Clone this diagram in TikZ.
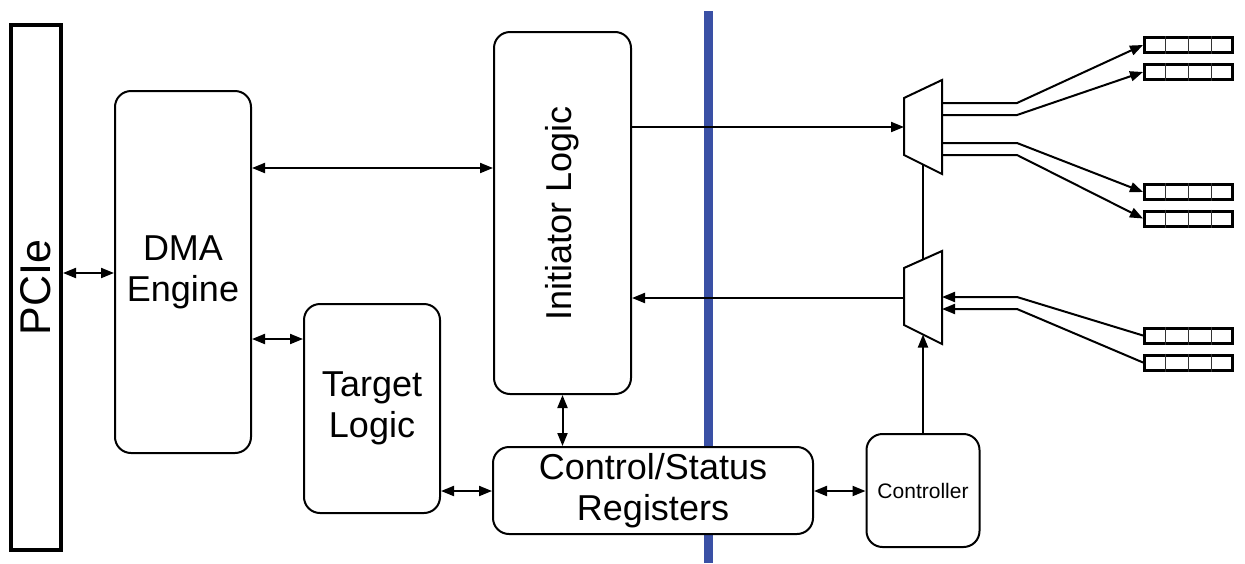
\documentclass[tikz,border=0pt]{standalone}
\usepackage{fontspec}
\setmainfont{Liberation Sans}
\usetikzlibrary{arrows.meta,calc}
\definecolor{barblue}{RGB}{58,80,165}
\begin{document}
\begin{tikzpicture}[x=1pt,y=-1pt,
  >={Triangle[length=13pt,width=10pt]},
  box/.style={draw, line width=2pt, rounded corners=16pt, fill=white,
    align=center, inner sep=0pt, font=\fontsize{36}{41}\selectfont},
  link/.style={line width=2pt, <->},
  feed/.style={line width=2pt, ->},
  wire/.style={line width=2pt},
  muxshape/.style={draw, line width=2pt, fill=white, line join=miter},
  queue/.style={draw, line width=3pt, fill=white, minimum width=88pt,
    minimum height=15pt, inner sep=0pt},
  cell/.style={line width=1.2pt, black!80},
]
\useasboundingbox (0,0) rectangle (1245,563);

% clock-domain boundary
\draw[line width=9pt, barblue] (708.5,11) -- (708.5,563);

% host side
\node[draw, line width=4pt, minimum width=50pt, minimum height=525pt,
      inner sep=0pt, font=\fontsize{43}{50}\selectfont] (pcie) at (36,287.5) {\rotatebox{90}{PCIe}};
\node[box, minimum width=136pt, minimum height=362pt] (dma) at (183,272) {DMA\\Engine};
\node[box, minimum width=136pt, minimum height=209pt] (target) at (372,408.5) {Target\\Logic};
\node[box, minimum width=137pt, minimum height=362pt] (init) at (562.5,213) {\rotatebox{90}{Initiator Logic}};
\node[box, minimum width=320pt, minimum height=87pt] (csr) at (653,490.5) {Control/Status\\Registers};
\node[box, minimum width=113pt, minimum height=113pt,
      font=\fontsize{21}{25}\selectfont] (ctrl) at (923,490.5) {Controller};

% multiplexers
\draw[muxshape] (904,98) -- (942,80) -- (942,174) -- (904,155) -- cycle;
\draw[muxshape] (904,268) -- (942,251) -- (942,344) -- (904,325) -- cycle;
\coordinate (upIn)  at (904,127);
\coordinate (upBot) at (923,164.5);
\coordinate (loTop) at (923,259.5);
\coordinate (loBot) at (923,334.5);
\coordinate (loOut) at (904,298);
\coordinate (bend)  at (1017,0);

% queues
\node[queue] (q1) at (1188.5,45)    {};
\node[queue] (q2) at (1188.5,72)    {};
\node[queue] (q3) at (1188.5,192)   {};
\node[queue] (q4) at (1188.5,218.5) {};
\node[queue] (q5) at (1188.5,335.5) {};
\node[queue] (q6) at (1188.5,362.5) {};
\foreach \q in {q1,q2,q3,q4,q5,q6}
  \foreach \f in {0.25,0.5,0.75}
    \draw[cell] ($(\q.north west)!\f!(\q.north east)$) -- ($(\q.south west)!\f!(\q.south east)$);

% host-side connections
\draw[link] (pcie.east |- 0,273) -- (dma.west |- 0,273);
\draw[link] (dma.east |- 0,168) -- (init.west |- 0,168);
\draw[link] (dma.east |- 0,339) -- (target.west |- 0,339);
\draw[link] (target.east |- 0,491) -- (csr.west |- 0,491);
\draw[link] (init.south) -- (init.south |- csr.north);
\draw[link] (csr.east |- 0,491) -- (ctrl.west |- 0,491);

% device-side connections
\draw[feed] (init.east |- upIn) -- (upIn);
\draw[feed] (loOut) -- (init.east |- loOut);
\draw[wire] (upBot) -- (loTop);
\draw[feed] (ctrl.north) -- (loBot);

\draw[feed] (942,103) -- (bend |- 0,103) -- (q1.west);
\draw[feed] (942,115) -- (bend |- 0,115) -- (q2.west);
\draw[feed] (942,143) -- (bend |- 0,143) -- (q3.west);
\draw[feed] (942,155) -- (bend |- 0,155) -- (q4.west);
\draw[feed] (q5.west) -- (bend |- 0,297) -- (942,297);
\draw[feed] (q6.west) -- (bend |- 0,309) -- (942,309);
\end{tikzpicture}
\end{document}
